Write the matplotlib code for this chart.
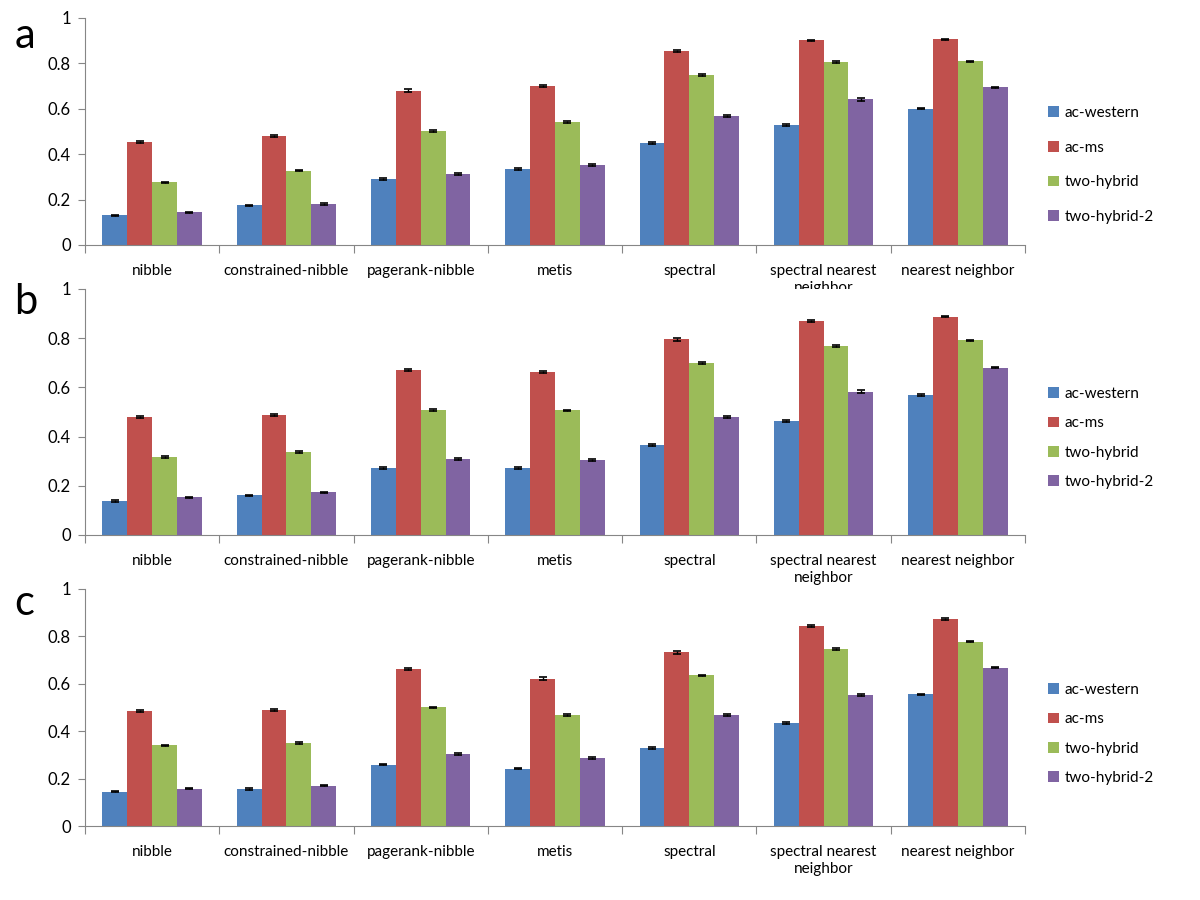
import matplotlib
matplotlib.use("Agg")
import matplotlib.pyplot as plt
import numpy as np

plt.rcParams['font.family'] = ['Lato', 'DejaVu Sans']

methods = ["nibble", "constrained-nibble", "pagerank-nibble", "metis",
           "spectral", "spectral nearest\nneighbor", "nearest neighbor"]
series = ["ac-western", "ac-ms", "two-hybrid", "two-hybrid-2"]
colors = ["#4F81BD", "#C0504D", "#9BBB59", "#8064A2"]

# panel a
a_western = [0.131, 0.175, 0.291, 0.336, 0.449, 0.529, 0.601]
a_ms = [0.454, 0.481, 0.680, 0.699, 0.854, 0.901, 0.906]
a_twohybrid = [0.276, 0.328, 0.501, 0.541, 0.749, 0.805, 0.809]
a_twohybrid2 = [0.144, 0.181, 0.311, 0.354, 0.569, 0.641, 0.694]
a_err_western = [0.003, 0.003, 0.004, 0.004, 0.005, 0.004, 0.003]
a_err_ms = [0.004, 0.004, 0.005, 0.005, 0.005, 0.004, 0.003]
a_err_twohybrid = [0.003, 0.003, 0.004, 0.004, 0.004, 0.004, 0.003]
a_err_twohybrid2 = [0.003, 0.003, 0.004, 0.004, 0.005, 0.005, 0.004]

# panel b
b_western = [0.138, 0.161, 0.271, 0.271, 0.365, 0.463, 0.568]
b_ms = [0.480, 0.488, 0.671, 0.663, 0.796, 0.868, 0.888]
b_twohybrid = [0.317, 0.338, 0.507, 0.506, 0.701, 0.769, 0.792]
b_twohybrid2 = [0.153, 0.173, 0.309, 0.306, 0.480, 0.583, 0.680]
b_err_western = [0.003, 0.003, 0.004, 0.004, 0.005, 0.005, 0.004]
b_err_ms = [0.004, 0.004, 0.005, 0.005, 0.006, 0.004, 0.003]
b_err_twohybrid = [0.003, 0.003, 0.004, 0.004, 0.004, 0.004, 0.002]
b_err_twohybrid2 = [0.003, 0.003, 0.004, 0.004, 0.005, 0.005, 0.003]

# panel c
c_western = [0.144, 0.156, 0.259, 0.242, 0.328, 0.433, 0.556]
c_ms = [0.487, 0.491, 0.662, 0.622, 0.733, 0.844, 0.874]
c_twohybrid = [0.340, 0.350, 0.501, 0.469, 0.635, 0.746, 0.777]
c_twohybrid2 = [0.158, 0.170, 0.303, 0.287, 0.468, 0.551, 0.668]
c_err_western = [0.002, 0.003, 0.003, 0.003, 0.004, 0.004, 0.003]
c_err_ms = [0.004, 0.004, 0.005, 0.005, 0.006, 0.004, 0.003]
c_err_twohybrid = [0.003, 0.003, 0.003, 0.003, 0.004, 0.004, 0.002]
c_err_twohybrid2 = [0.002, 0.002, 0.003, 0.003, 0.004, 0.004, 0.002]

panels = [
    ("a", [a_western, a_ms, a_twohybrid, a_twohybrid2],
     [a_err_western, a_err_ms, a_err_twohybrid, a_err_twohybrid2]),
    ("b", [b_western, b_ms, b_twohybrid, b_twohybrid2],
     [b_err_western, b_err_ms, b_err_twohybrid, b_err_twohybrid2]),
    ("c", [c_western, c_ms, c_twohybrid, c_twohybrid2],
     [c_err_western, c_err_ms, c_err_twohybrid, c_err_twohybrid2]),
]

# axes boxes in figure coords [left, bottom, width, height]
boxes = [[0.0708, 0.7278, 0.7834, 0.2522],
         [0.0708, 0.4056, 0.7834, 0.2733],
         [0.0708, 0.0822, 0.7834, 0.2634]]
letter_y = [0.960, 0.665, 0.330]
legend_y = [0.352, 0.394, 0.388]
legend_space = [1.35, 1.0, 1.0]

fig = plt.figure(figsize=(12, 9), dpi=100)
axis_gray = "#868686"
bw = 1.0 / 5.4
x = np.arange(len(methods))

for (letter, vals, errs), box, ly, gy, gs in zip(panels, boxes, letter_y,
                                                 legend_y, legend_space):
    ax = fig.add_axes(box)
    for i in range(4):
        pos = x + (i - 1.5) * bw
        ax.bar(pos, vals[i], width=bw, color=colors[i], label=series[i],
               yerr=errs[i], capsize=3,
               error_kw=dict(ecolor="black", elinewidth=1, capthick=1.2))
    ax.set_xlim(-0.5, len(methods) - 0.5)
    ax.set_ylim(0, 1)
    ax.set_yticks([0, 0.2, 0.4, 0.6, 0.8, 1])
    ax.set_yticklabels(["0", "0.2", "0.4", "0.6", "0.8", "1"])
    ax.set_xticks(np.arange(len(methods) + 1) - 0.5)
    ax.set_xticklabels([])
    ax.set_xticks(x, minor=True)
    ax.set_xticklabels(methods, minor=True, fontsize=11)
    ax.tick_params(axis="x", which="major", length=6, color=axis_gray,
                   direction="out")
    ax.tick_params(axis="x", which="minor", length=0, pad=14)
    ax.tick_params(axis="y", length=5, color=axis_gray, labelsize=12, pad=5)
    for s in ["top", "right"]:
        ax.spines[s].set_visible(False)
    for s in ["left", "bottom"]:
        ax.spines[s].set_color(axis_gray)
    ax.legend(loc="center left", bbox_to_anchor=(1.01, gy), frameon=False,
              fontsize=11, handlelength=0.7, handleheight=0.7,
              labelspacing=gs, handletextpad=0.4)
    fig.text(0.012, ly, letter, fontsize=30, va="center", ha="left")

fig.savefig("out.png", dpi=100)
